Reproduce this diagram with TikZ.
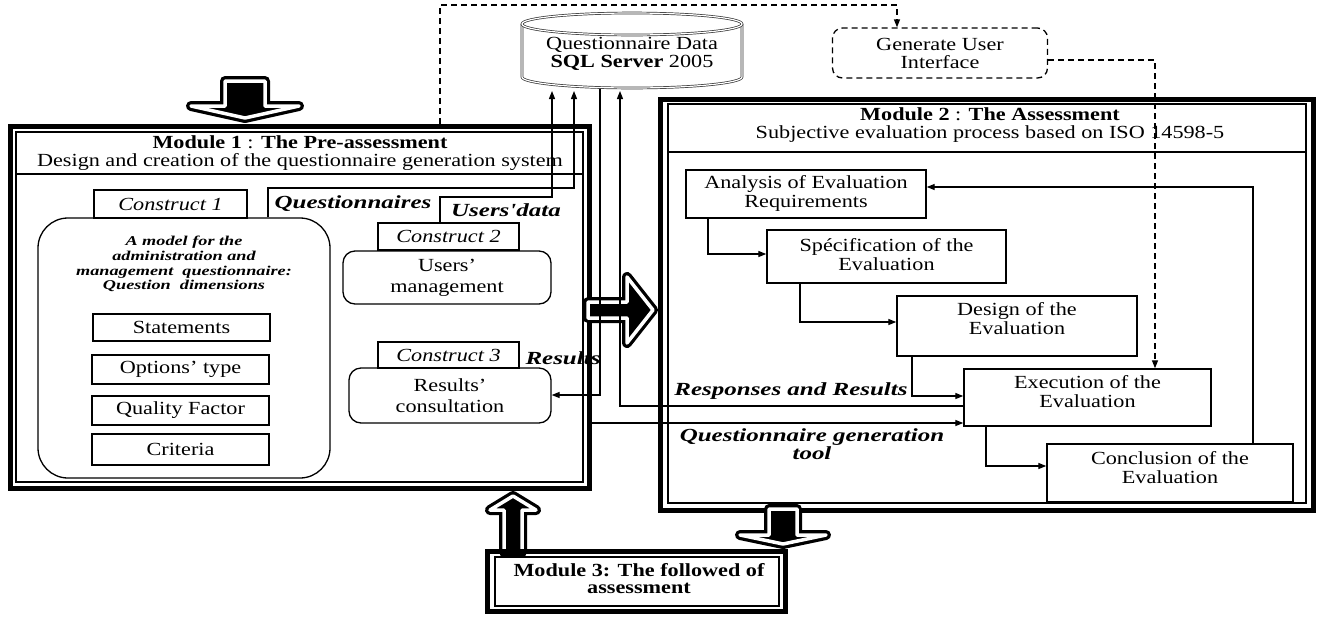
\documentclass[tikz,border=0pt]{standalone}
\usepackage{fontspec}
\setmainfont{Liberation Serif}[FakeStretch=1.2]
\newfontfamily\lblfont{Liberation Serif}[FakeStretch=1.35]
\usetikzlibrary{arrows.meta}
\newcommand\tnorm{\fontsize{18.5}{19}\selectfont}
\newcommand\thead{\fontsize{18.5}{18}\selectfont}
\newcommand\tbox{\fontsize{18.5}{21}\selectfont}
\newcommand\tlbl{\lblfont\bfseries\itshape\fontsize{18.5}{16}\selectfont}
\newcommand\tsmall{\lblfont\bfseries\itshape\fontsize{13.5}{14.7}\selectfont}
\begin{document}
\begin{tikzpicture}[x=1pt,y=-1pt,
  conn/.style={draw, line width=1.3pt, -{Triangle[length=8pt,width=6pt]}},
  plain/.style={draw, line width=1.3pt},
  dashc/.style={draw, line width=1.3pt, dash pattern=on 6pt off 4pt},
  modout/.style={draw, line width=5pt, inner sep=0pt},
  modin/.style={draw, line width=1.2pt, inner sep=0pt},
  pbox/.style={draw, line width=1.4pt, inner sep=0pt},
  ptxt/.style={align=center, font=\tnorm, inner sep=0pt},
  tab/.style={draw, line width=1.3pt, inner sep=0pt, font=\tnorm\itshape},
  rbox/.style={draw, line width=1.3pt, inner sep=0pt, align=center, font=\tbox},
  lbl/.style={align=center, inner sep=0pt, font=\tlbl},
  blockarrow/.style={draw=black, fill=black, line width=10pt, line join=round,
     postaction={draw=white, fill=none, line width=3.5pt, line join=round}},
]
\useasboundingbox (0,0) rectangle (1323,619);
\fill[white] (0,0) rectangle (1323,619);

% ---------- Module 1 ----------
\node[modout, minimum width=579pt, minimum height=362pt] (m1) at (300,307.5) {};
\node[modin, minimum width=567pt, minimum height=350pt] (m1in) at (299.5,307) {};
\draw[line width=1.2pt] (m1in.west |- 0,174) -- (m1in.east |- 0,174);
\node[align=center, inner sep=0pt, font=\thead] (m1t) at (300,153)
  {\textbf{Module 1} : \textbf{The Pre-assessment}\\Design and creation of the questionnaire generation system};

\node[draw, line width=1.3pt, rounded corners=30pt, minimum width=292pt, minimum height=260pt] (model) at (184,348) {};
\node[tab, minimum width=153pt, minimum height=28pt] (c1) at (170.5,204) {Construct 1};
\node[align=center, inner sep=0pt, font=\tsmall] (modeltxt) at (184,264)
  {A model for the\\administration and\\management \ questionnaire:\\Question \ dimensions};
\node[pbox, minimum width=177pt, minimum height=27pt, font=\tnorm] (stm) at (181.5,327.5) {Statements};
\node[pbox, minimum width=177pt, minimum height=29pt, font=\tnorm] (opt) at (180.5,369.5) {Options’ type};
\node[pbox, minimum width=177pt, minimum height=29pt, font=\tnorm] (qf) at (180.5,410.5) {Quality Factor};
\node[pbox, minimum width=177pt, minimum height=31pt, font=\tnorm] (cri) at (180.5,449.5) {Criteria};

\node[rbox, rounded corners=12pt, minimum width=208pt, minimum height=53pt] (um) at (447,277.5) {Users’\\management};
\node[tab, minimum width=141pt, minimum height=27pt] (c2) at (448.5,236.5) {Construct 2};
\node[rbox, rounded corners=12pt, minimum width=202pt, minimum height=55pt] (res) at (450,395.5) {Results’\\consultation};
\node[tab, minimum width=141pt, minimum height=26pt] (c3) at (448.5,355) {Construct 3};

\node[lbl] (lq) at (353,204) {Questionnaires};
\node[lbl] (lu) at (506,210) {Users'data};
\node[lbl] (lr) at (563,358) {Results};

% ---------- Module 2 ----------
\node[modout, minimum width=653pt, minimum height=411pt] (m2) at (987,305) {};
\node[modin, minimum width=638pt, minimum height=399pt] (m2in) at (987,303.5) {};
\draw[line width=1.2pt] (m2in.west |- 0,152) -- (m2in.east |- 0,152);
\node[align=center, inner sep=0pt, font=\thead] (m2t) at (990,125)
  {\textbf{Module 2} : \textbf{The Assessment}\\Subjective evaluation process based on ISO 14598-5};

\node[pbox, minimum width=240pt, minimum height=48pt] (ana) at (806,194) {};
\node[ptxt] at (806,193) {Analysis of Evaluation\\Requirements};
\node[pbox, minimum width=239pt, minimum height=53pt] (spec) at (886.5,256.5) {};
\node[ptxt] at (886.5,254.5) {Spécification of the\\Evaluation};
\node[pbox, minimum width=240pt, minimum height=60pt] (des) at (1017,326) {};
\node[ptxt] at (1017,318.5) {Design of the\\Evaluation};
\node[pbox, minimum width=247pt, minimum height=57pt] (exe) at (1087.5,397.5) {};
\node[ptxt] at (1087.5,392) {Execution of the\\Evaluation};
\node[pbox, minimum width=246pt, minimum height=58pt] (con) at (1170,473) {};
\node[ptxt] at (1170,467.5) {Conclusion of the\\Evaluation};

\node[lbl] (lrr) at (791,391) {Responses and Results};
\node[lbl] (lqg) at (812,444) {Questionnaire generation\\tool};

% ---------- Module 3 ----------
\path[blockarrow] (504,552) -- (504,510) -- (490,510) -- (513,496) -- (536,510) -- (522,510) -- (522,552) -- cycle;
\path[blockarrow] (769,509) -- (797,509) -- (797,535) -- (826,535) -- (783,544) -- (740,535) -- (769,535) -- cycle;
\node[modout, minimum width=298pt, minimum height=60pt] (m3) at (636.5,581.5) {};
\node[modin, minimum width=284pt, minimum height=49pt] (m3in) at (637,581.5) {};
\node[align=center, inner sep=0pt, font=\fontsize{18.5}{17}\selectfont\bfseries] (m3t) at (639,578.5)
  {Module 3: The followed of\\assessment};

% ---------- other block arrows ----------
\path[blockarrow] (225,81) -- (265,81) -- (265,106) -- (299,106) -- (245,118) -- (191,106) -- (225,106) -- cycle;
\path[blockarrow] (588,302) -- (627,302) -- (627,277) -- (653,310) -- (627,343) -- (627,318) -- (588,318) -- cycle;

% ---------- Database ----------
\draw[draw=black!80, line width=0.7pt, double, double distance=1.2pt] (522,24) -- (522,77)
   arc[start angle=180, end angle=360, x radius=110pt, y radius=11pt] -- (742,24);
\draw[draw=black!80, line width=0.7pt, double, double distance=1.2pt] (632,24) ellipse [x radius=110pt, y radius=11pt];
\node[align=center, inner sep=0pt, font=\thead] (db) at (632,54) {Questionnaire Data\\\textbf{SQL Server} 2005};

\node[draw, line width=1.3pt, dash pattern=on 6pt off 4pt, rounded corners=10pt,
      minimum width=215pt, minimum height=50pt, align=center, inner sep=0pt, font=\thead] (gui) at (940,53) {Generate User\\Interface};

% ---------- connectors ----------
\coordinate (qa) at (268,188);
\coordinate (qb) at (574,188);
\coordinate (dbq) at (574,91);
\draw[conn] (model.north -| qa) -- (qa) -- (qb) -- (dbq);

\coordinate (ua) at (440,197);
\coordinate (ub) at (552,197);
\coordinate (dbu) at (552,91);
\draw[conn] (c2.north -| ua) -- (ua) -- (ub) -- (dbu);

\coordinate (ra) at (600,88.5);
\coordinate (rb) at (600,395);
\draw[conn] (ra) -- (rb) -- (res.east |- rb);

\coordinate (ea) at (620,406);
\coordinate (dbe) at (620,91);
\draw[conn] (exe.west |- ea) -- (ea) -- (dbe);

\coordinate (gy) at (600,423);
\draw[conn] (m1.east |- gy) -- (exe.west |- gy);

\coordinate (p1) at (708,254);
\draw[conn] (ana.south -| p1) -- (p1) -- (spec.west |- p1);
\coordinate (p2) at (800,322);
\draw[conn] (spec.south -| p2) -- (p2) -- (des.west |- p2);
\coordinate (p3) at (912,396);
\draw[conn] (des.south -| p3) -- (p3) -- (exe.west |- p3);
\coordinate (p4) at (986,466);
\draw[conn] (exe.south -| p4) -- (p4) -- (con.west |- p4);
\coordinate (p5) at (1253,187);
\draw[conn] (con.north -| p5) -- (p5) -- (ana.east |- p5);

\coordinate (d1) at (440,5);
\coordinate (d2) at (897,5);
\draw[dashc, -{Triangle[length=8pt,width=6pt]}] (m1.north -| d1) -- (d1) -- (d2) -- (gui.north -| d2);
\coordinate (d3) at (1155,60);
\draw[dashc, -{Triangle[length=8pt,width=6pt]}] (gui.east |- d3) -- (d3) -- (exe.north -| d3);
\end{tikzpicture}
\end{document}
